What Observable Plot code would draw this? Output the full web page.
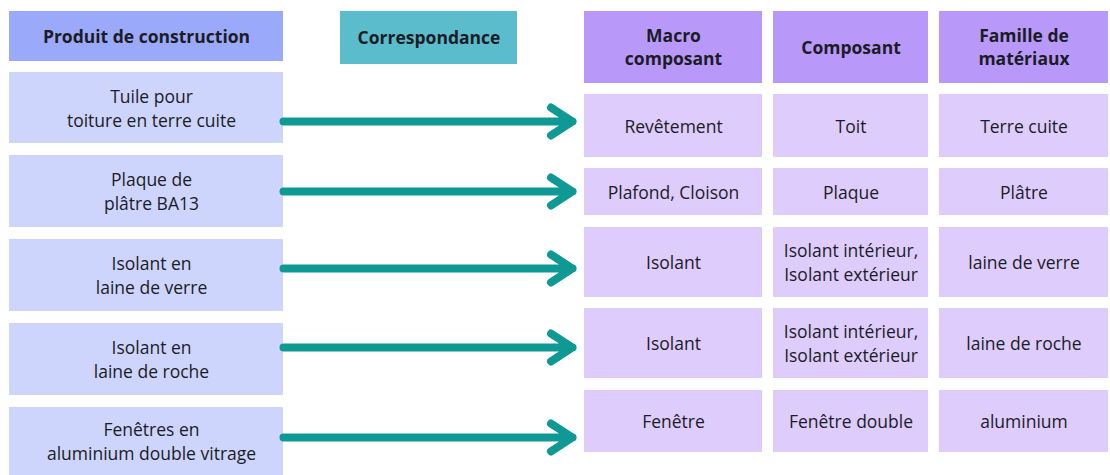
<!DOCTYPE html>
<html>
<head>
<meta charset="utf-8">
<script src="https://cdn.jsdelivr.net/npm/d3@7"></script>
<script src="https://cdn.jsdelivr.net/npm/@observablehq/plot@0.6"></script>
<style>
  html, body { margin: 0; padding: 0; background: #ffffff; }
  #chart svg { display: block; }
</style>
</head>
<body>
<div id="chart"></div>
<script>
// ---- Data (labels) ----
const headerProduit = "Produit de construction";
const headerCorrespondance = "Correspondance";
const headersRight = ["Macro\ncomposant", "Composant", "Famille de\nmatériaux"];
const produits = [
  "Tuile pour\ntoiture en terre cuite",
  "Plaque de\nplâtre BA13",
  "Isolant en\nlaine de verre",
  "Isolant en\nlaine de roche",
  "Fenêtres en\naluminium double vitrage"
];
const macroComposants = ["Revêtement", "Plafond, Cloison", "Isolant", "Isolant", "Fenêtre"];
const composants = ["Toit", "Plaque", "Isolant intérieur,\nIsolant extérieur", "Isolant intérieur,\nIsolant extérieur", "Fenêtre double"];
const familles = ["Terre cuite", "Plâtre", "laine de verre", "laine de roche", "aluminium"];

// ---- Layout (pixel grid of the diagram) ----
const W = 1110, H = 475;
const leftCol = [9, 283];
const leftRowTextShift = 5;
const corrBox = {x1: 340, x2: 517, y1: 11, y2: 64};
const leftHeaderY = [11, 61];
const leftRowsY = [[72, 143], [155, 227], [239, 311], [323, 395], [407, 475]];
const rightCols = [[584, 762], [773, 928], [939, 1108]];
const rightHeaderY = [11, 83];
const rightRowsY = [[94, 157], [168, 215], [227, 297], [308, 378], [390, 452]];
const arrowY = [121, 191, 268, 347, 437];
const arrowX = [283, 572];

// ---- Styles ----
const cHeadLeft = "#9ba9fa", cRowLeft = "#cdd5fc", cCorr = "#5bbccb";
const cHeadRight = "#b899fa", cRowRight = "#ddccfc", cArrow = "#0f9994";
const cText = "#1c1c26";

// ---- Build tables ----
const boxes = [];
const texts = [];
function addBox(x1, x2, y1, y2, fill, label, bold, shift = 0) {
  boxes.push({x1, x2, y1, y2, fill});
  texts.push({x: (x1 + x2) / 2 + shift, y: (y1 + y2) / 2, label, bold});
}
addBox(leftCol[0], leftCol[1], leftHeaderY[0], leftHeaderY[1], cHeadLeft, headerProduit, true);
addBox(corrBox.x1, corrBox.x2, corrBox.y1, corrBox.y2, cCorr, headerCorrespondance, true);
produits.forEach((p, i) => addBox(leftCol[0], leftCol[1], leftRowsY[i][0], leftRowsY[i][1], cRowLeft, p, false, leftRowTextShift));
const rightData = [macroComposants, composants, familles];
headersRight.forEach((h, c) => {
  addBox(rightCols[c][0], rightCols[c][1], rightHeaderY[0], rightHeaderY[1], cHeadRight, h, true);
  rightData[c].forEach((v, i) => addBox(rightCols[c][0], rightCols[c][1], rightRowsY[i][0], rightRowsY[i][1], cRowRight, v, false));
});
const arrows = arrowY.map(y => ({x1: arrowX[0], x2: arrowX[1], y}));

const chart = Plot.plot({
  width: W,
  height: H,
  margin: 0,
  x: {domain: [0, W], range: [0, W], axis: null},
  y: {domain: [0, H], range: [0, H], axis: null},
  style: {fontFamily: "'Open Sans', sans-serif", background: "#ffffff"},
  marks: [
    Plot.rect(boxes, {x1: "x1", x2: "x2", y1: "y1", y2: "y2", fill: d => d.fill}),
    Plot.arrow(arrows, {
      x1: "x1", x2: "x2", y1: "y", y2: "y",
      stroke: cArrow, strokeWidth: 8, bend: 0,
      headAngle: 66, headLength: 4.8,
      strokeLinecap: "round", strokeLinejoin: "round"
    }),
    Plot.text(texts.filter(t => t.bold), {
      x: "x", y: "y", text: "label", fill: cText,
      fontSize: 17.5, fontWeight: "bold", lineHeight: 1.32, dy: -1,
      textAnchor: "middle", lineAnchor: "middle"
    }),
    Plot.text(texts.filter(t => !t.bold), {
      x: "x", y: "y", text: "label", fill: cText,
      fontSize: 17.5, lineHeight: 1.37, dy: -1,
      textAnchor: "middle", lineAnchor: "middle"
    })
  ]
});
document.getElementById("chart").appendChild(chart);
</script>
</body>
</html>
